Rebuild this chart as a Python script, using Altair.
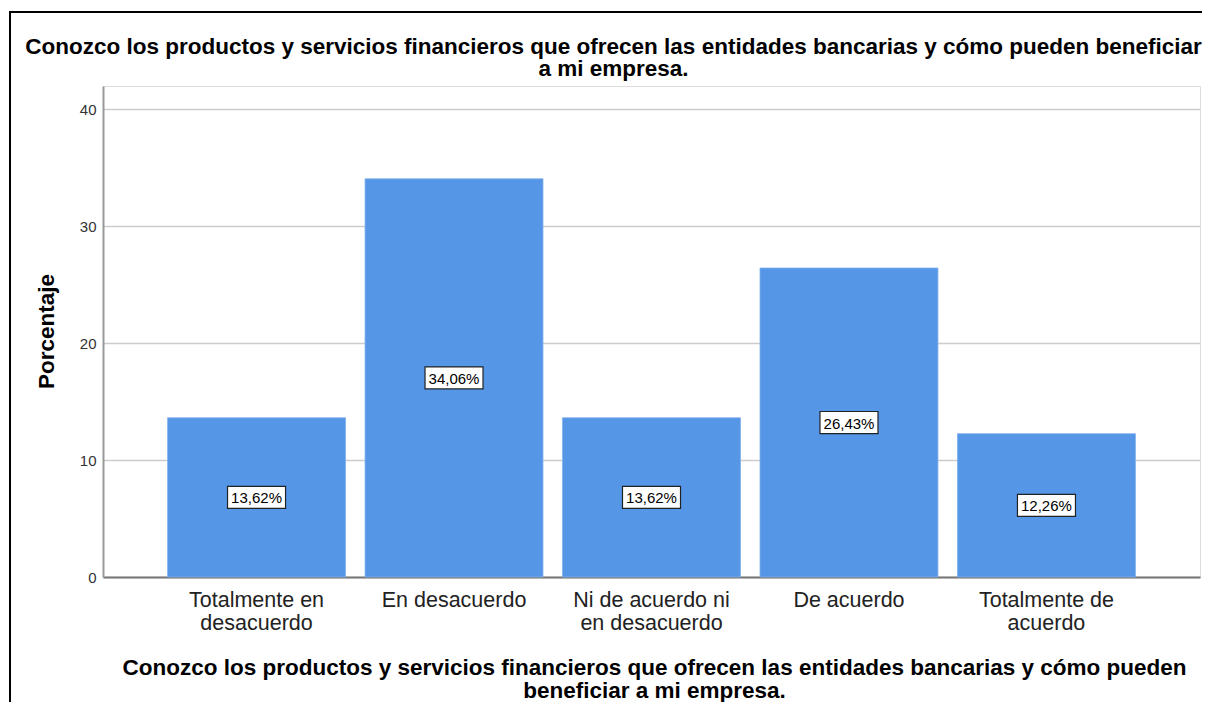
import altair as alt
import pandas as pd

categories = ["Totalmente en desacuerdo", "En desacuerdo", "Ni de acuerdo ni en desacuerdo",
              "De acuerdo", "Totalmente de acuerdo"]
label_lines = [["Totalmente en", "desacuerdo"], ["En desacuerdo"], ["Ni de acuerdo ni", "en desacuerdo"],
               ["De acuerdo"], ["Totalmente de", "acuerdo"]]
values = [13.62, 34.06, 13.62, 26.43, 12.26]
y_ticks = [0, 10, 20, 30, 40]
title_lines = ["Conozco los productos y servicios financieros que ofrecen las entidades bancarias y cómo pueden beneficiar",
               "a mi empresa."]
x_title_lines = ["Conozco los productos y servicios financieros que ofrecen las entidades bancarias y cómo pueden",
                 "beneficiar a mi empresa."]
y_title = "Porcentaje"

df = pd.DataFrame({
    "cat": categories,
    "val": values,
    "txt": [f"{v:.2f}".replace(".", ",") + "%" for v in values],
})

FONT = "Liberation Sans"
W, H = 1097, 491

# label expression for multi-line category labels
expr = "''"
for c, lines in reversed(list(zip(categories, label_lines))):
    arr = "[" + ",".join("'" + l + "'" for l in lines) + "]"
    expr = f"datum.value == '{c}' ? {arr} : ({expr})"

x_enc = alt.X("cat:N", sort=categories,
              scale=alt.Scale(paddingInner=0.099, paddingOuter=0.327),
              axis=alt.Axis(title=x_title_lines, labelExpr=expr, labelAngle=0,
                            labelFont=FONT, labelFontSize=21.5, labelColor="#222222",
                            labelLineHeight=23, labelPadding=12, labelLimit=400,
                            ticks=False, domainColor="#777777", domainWidth=2,
                            titleFont=FONT, titleFontSize=22.5, titleFontWeight="bold",
                            titleColor="#000000", titleLineHeight=23,
                            titleX=551, titleY=97, titleBaseline="alphabetic",
                            titleAlign="center"))
y_enc = alt.Y("val:Q", scale=alt.Scale(domain=[0, 42], nice=False, zero=True),
              axis=alt.Axis(title=y_title, values=y_ticks, ticks=False,
                            labelFont=FONT, labelFontSize=15, labelColor="#333333",
                            labelPadding=7, domainColor="#999999", domainWidth=2,
                            gridColor="#cccccc", gridWidth=1.5,
                            titleFont=FONT, titleFontSize=22.5, titleFontWeight="bold",
                            titleColor="#000000", titleAngle=270,
                            titleX=-45, titleY=245, titleBaseline="bottom",
                            titleAlign="center"))

bars = alt.Chart(df).mark_bar(color="#5596e6", stroke="#7fb0ee", strokeWidth=0.8).encode(x=x_enc, y=y_enc)

box = alt.Chart(df).transform_calculate(mid="datum.val / 2").mark_point(
    shape="M-1,-0.38L1,-0.38L1,0.38L-1,0.38Z", size=58 * 58, filled=True,
    fill="white", stroke="#222222", strokeWidth=1.2, opacity=1
).encode(x=alt.X("cat:N", sort=categories), y=alt.Y("mid:Q"))

txt = alt.Chart(df).transform_calculate(mid="datum.val / 2").mark_text(
    font=FONT, fontSize=15, color="#000000", baseline="middle", align="center", dy=1
).encode(x=alt.X("cat:N", sort=categories), y=alt.Y("mid:Q"), text="txt:N")

frame_left = alt.Chart(df).mark_rule(color="#000000", strokeWidth=2).encode(
    x=alt.value(-93), y=alt.value(-74), y2=alt.value(H + 140))
frame_top = alt.Chart(df).mark_rule(color="#000000", strokeWidth=1.5).encode(
    x=alt.value(-94), x2=alt.value(W + 140), y=alt.value(-74))

chart = alt.layer(bars, box, txt, frame_left, frame_top).properties(
    width=W, height=H,
    autosize=alt.AutoSizeParams(type="none"),
    padding={"left": 95, "top": 78, "right": 2, "bottom": 125},
    title=alt.TitleParams(text=title_lines, font=FONT, fontSize=22.5, fontWeight="bold",
                          color="#000000", anchor="middle", dx=-38, dy=75.5, lineHeight=22.5,
                          offset=6),
).configure_view(stroke=None).configure(background="white")

chart.save("out.html", embed_options={"renderer": "svg", "actions": False})
